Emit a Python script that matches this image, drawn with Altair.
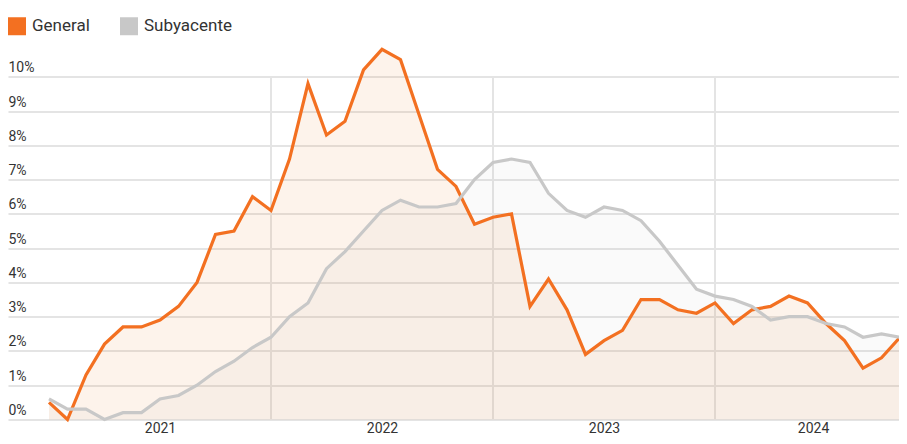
import altair as alt
import pandas as pd

# Monthly labels, Jan 2021 .. Nov 2024
months = [f"{y}-{m:02d}" for y in range(2021, 2025) for m in range(1, 13)][:47]

general = [0.5, 0.0, 1.3, 2.2, 2.7, 2.7, 2.9, 3.3, 4.0, 5.4, 5.5, 6.5,
           6.1, 7.6, 9.8, 8.3, 8.7, 10.2, 10.8, 10.5, 8.9, 7.3, 6.8, 5.7,
           5.9, 6.0, 3.3, 4.1, 3.2, 1.9, 2.3, 2.6, 3.5, 3.5, 3.2, 3.1,
           3.4, 2.8, 3.2, 3.3, 3.6, 3.4, 2.8, 2.3, 1.5, 1.8, 2.4]

subyacente = [0.6, 0.3, 0.3, 0.0, 0.2, 0.2, 0.6, 0.7, 1.0, 1.4, 1.7, 2.1,
              2.4, 3.0, 3.4, 4.4, 4.9, 5.5, 6.1, 6.4, 6.2, 6.2, 6.3, 7.0,
              7.5, 7.6, 7.5, 6.6, 6.1, 5.9, 6.2, 6.1, 5.8, 5.2, 4.5, 3.8,
              3.6, 3.5, 3.3, 2.9, 3.0, 3.0, 2.8, 2.7, 2.4, 2.5, 2.4]

series_names = ["General", "Subyacente"]
year_lines = [2022, 2023, 2024]
year_label_pos = [6, 18, 30, 41.3]   # month-index where each year label sits
y_ticks = list(range(0, 11))

ORANGE = "#f37021"
GRAY = "#c8c8c8"
GRID = "#e4e4e4"
TEXT = "#333333"

rows = []
for i, m in enumerate(months):
    rows.append({"idx": i, "month": m, "serie": "General", "valor": general[i]})
    rows.append({"idx": i, "month": m, "serie": "Subyacente", "valor": subyacente[i]})
df = pd.DataFrame(rows)

vlines = pd.DataFrame({"idx": [(y - 2021) * 12 for y in year_lines],
                       "y0": [0] * len(year_lines),
                       "y1": [10] * len(year_lines)})

xscale = alt.Scale(domain=[-2.216, 45.946], nice=False, zero=False)
yscale = alt.Scale(domain=[0, 11], nice=False)

xaxis = alt.Axis(values=year_label_pos, labelExpr="floor(datum.value/12)+2021",
                 grid=False, domain=False, ticks=False, tickSize=0,
                 labelPadding=2, labelFontSize=14, labelColor=TEXT,
                 title=None, labelFlush=False, labelOverlap=False)
yaxis = alt.Axis(values=y_ticks, labelExpr="datum.value + '%'",
                 grid=True, gridColor=GRID, gridWidth=2,
                 domain=False, ticks=False, tickSize=0, labelPadding=0,
                 labelAlign="left", labelBaseline="alphabetic", labelOffset=-5,
                 labelFontSize=14, labelColor=TEXT, title=None, labelFlush=False)

X = alt.X("idx:Q", scale=xscale, axis=xaxis)
Y = alt.Y("valor:Q", scale=yscale, axis=yaxis)

rules = alt.Chart(vlines).mark_rule(color=GRID, strokeWidth=2).encode(
    x=alt.X("idx:Q", scale=xscale, axis=xaxis),
    y=alt.Y("y0:Q", scale=yscale, axis=yaxis),
    y2="y1:Q",
)

base = alt.Chart(df).encode(x=X, y=Y)

area_gray = base.transform_filter(alt.datum.serie == "Subyacente").mark_area(
    color="#888888", opacity=0.045)
area_or = base.transform_filter(alt.datum.serie == "General").mark_area(
    color="#eb8737", opacity=0.1)

lines = base.mark_line(strokeWidth=3.2).encode(
    color=alt.Color("serie:N",
                    scale=alt.Scale(domain=series_names, range=[ORANGE, GRAY]),
                    legend=alt.Legend(title=None, orient="none", legendX=0, legendY=-25.5,
                                      direction="horizontal", symbolType="square",
                                      symbolSize=81, symbolStrokeWidth=9,
                                      labelFontSize=17, labelColor=TEXT,
                                      labelOffset=6, columnPadding=16, padding=0,
                                      symbolOpacity=1)),
    order=alt.Order("idx:Q"),
)

chart = alt.layer(rules, area_gray, area_or, lines).properties(
    width=891, height=377,
    autosize=alt.AutoSizeParams(type="none"),
    padding={"left": 0, "top": 34.5, "right": 0, "bottom": 16.5},
).configure(font="Roboto").configure_view(stroke=None)

chart.save("out.html", embed_options={"renderer": "svg", "actions": False})
